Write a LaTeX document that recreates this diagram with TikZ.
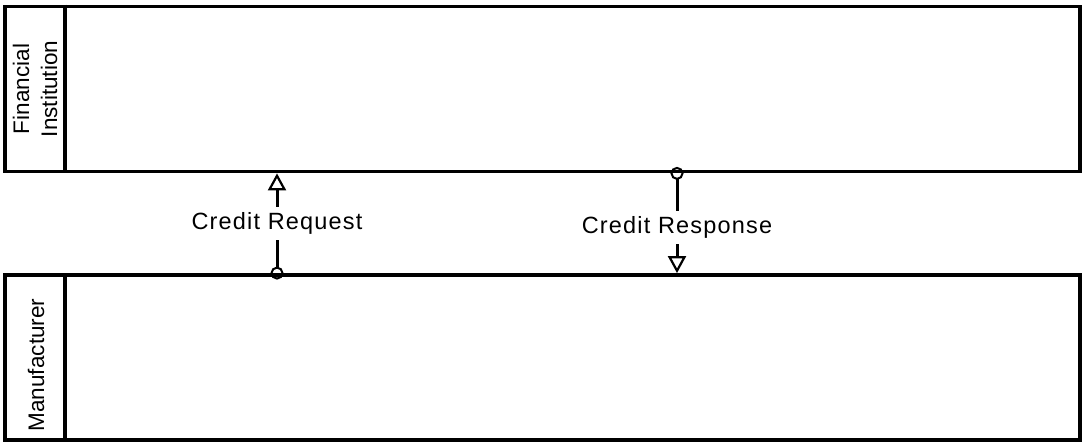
\documentclass[tikz,border=0pt]{standalone}
\usepackage{fontspec}
\setmainfont{Liberation Sans}
\usetikzlibrary{arrows.meta}

\begin{document}
\begin{tikzpicture}[x=1pt,y=1pt,%%
  poolStyle/.style={draw,line width=3.8pt,inner sep=0pt,%%
    minimum width=\poolLength pt,minimum height=\poolHeight pt},%%
  lineStyle/.style={-,line width=3.8pt},%%
  laneLabelStyle/.style={rotate=90,align=center,font=\fontsize{22.5}{28}\selectfont},%%
  flowStyle/.style={line width=3pt,%%
    {Circle[open,length=13pt,line width=2pt]}-{Triangle[open,length=17pt,width=18pt,line width=2.2pt]},%%
    shorten <=-6.5pt},%%
  labelStyle/.style={fill=white,inner xsep=2pt,inner ysep=5.5pt,%%
    font=\fontsize{23.5}{27}\selectfont\addfontfeatures{LetterSpace=5}}%%
]
%%
\pgfmathsetmacro{\poolLength}{1075}
\pgfmathsetmacro{\poolHeight}{165}
\pgfmathsetmacro{\headWidth}{62}
%%
\useasboundingbox (0,0) rectangle (1087,447);
%%
\coordinate (requestAxis) at (277,0);
\coordinate (responseAxis) at (677,0);
%% The two pools.
\node[poolStyle] (finPool) at (542.5,358) {};
\node[poolStyle] (mfgPool) at (542.5,89.5) {};
%% Pool headers.
\draw[lineStyle] ([xshift=\headWidth pt]finPool.north west) -- ([xshift=\headWidth pt]finPool.south west);
\draw[lineStyle] ([xshift=\headWidth pt]mfgPool.north west) -- ([xshift=\headWidth pt]mfgPool.south west);
\node[laneLabelStyle] (finLabel) at (35,358) {Financial\\Institution};
\node[laneLabelStyle] (mfgLabel) at (36,82) {Manufacturer};
%% Message flows between the pools.
\draw[flowStyle] (mfgPool.north -| requestAxis) --
  node[labelStyle,pos=0.5] (requestLabel) {Credit Request} (finPool.south -| requestAxis);
\draw[flowStyle] (finPool.south -| responseAxis) --
  node[labelStyle,pos=0.54] (responseLabel) {Credit Response} (mfgPool.north -| responseAxis);
\end{tikzpicture}
\end{document}
